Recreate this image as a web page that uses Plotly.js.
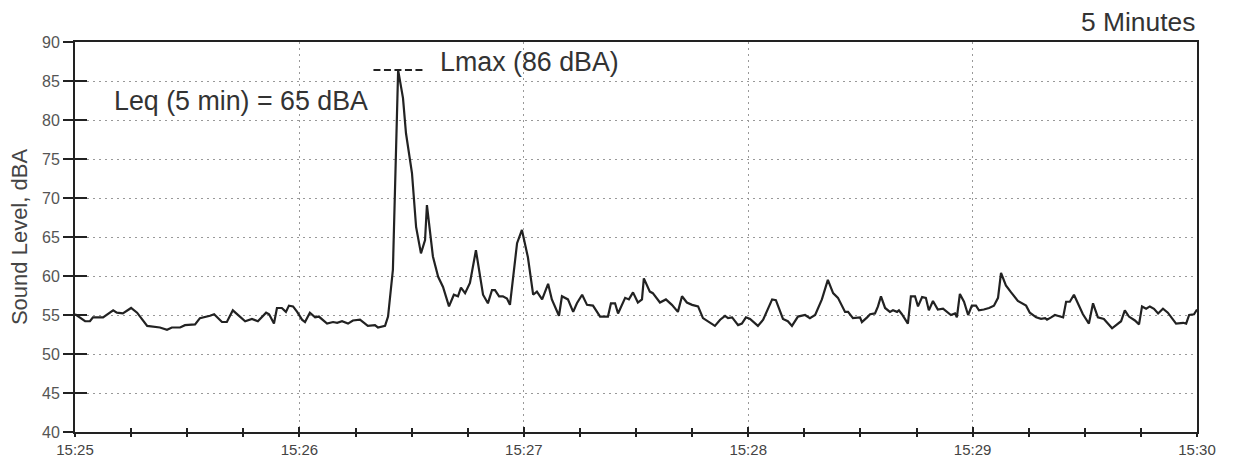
<!DOCTYPE html>
<html>
<head>
<meta charset="utf-8">
<script src="https://cdn.plot.ly/plotly-3.0.1.min.js"></script>
<style>html,body{margin:0;padding:0;background:#fff;}#chart{width:1233px;height:462px;}</style>
</head>
<body>
<div id="chart"></div>
<script>
// Seconds after 15:25:00
const seconds = [0,2.7,4.0,4.8,7.5,10.2,11.2,12.8,15.0,16.6,19.3,22.7,24.6,25.9,28.1,29.4,32.1,33.4,36.1,37.2,39.3,40.6,42.2,43.6,45.5,47.3,48.9,51.1,51.9,53.2,54.0,55.3,56.4,57.2,58.3,59.4,60.7,61.5,62.8,64.2,65.2,67.4,69.0,70.1,71.4,73.0,74.3,76.2,78.3,80.2,81.0,82.9,83.7,85.0,86.4,87.7,88.5,90.1,91.2,92.5,93.6,94.1,95.7,97.1,98.4,100.0,101.3,102.4,103.2,104.3,105.6,107.2,109.1,110.4,111.5,112.3,113.4,114.4,115.5,116.3,118.2,119.5,121.1,122.5,123.5,124.9,126.5,127.5,129.4,130.2,131.8,133.2,134.2,135.6,136.9,138.5,140.4,142.5,143.3,144.4,145.2,147.1,148.1,149.2,150.5,151.6,152.1,153.7,154.5,156.4,158.0,159.6,161.2,162.3,163.6,165.0,166.6,167.9,171.1,172.5,173.8,174.6,175.7,177.3,178.3,179.4,180.5,182.6,184.0,186.4,187.4,189.3,190.6,191.7,193.3,195.2,196.5,197.9,199.7,201.3,202.7,204.0,205.9,206.7,208.0,209.9,210.4,211.8,212.6,213.9,214.7,215.5,216.6,217.9,218.7,219.8,220.3,221.1,222.7,223.5,224.6,225.4,226.5,227.5,228.3,229.4,230.7,232.1,233.4,234.2,235.3,235.8,236.6,237.7,238.8,239.8,240.9,241.7,243.0,244.4,245.7,246.8,247.6,248.9,250.3,252.1,254.3,255.3,257.0,258.3,259.4,259.9,261.0,262.0,263.4,264.2,265.0,266.0,267.1,268.2,269.5,271.1,272.2,273.5,275.1,277.3,278.6,279.7,280.7,281.8,283.4,284.5,285.3,286.4,287.4,288.5,289.6,290.9,292.2,294.4,296.3,297.1,297.9,299.2,300];
// Sound level, dBA
const soundLevel = [55.1,54.2,54.2,54.7,54.7,55.6,55.3,55.2,55.9,55.3,53.6,53.4,53.1,53.4,53.4,53.7,53.8,54.6,54.9,55.1,54.1,54.1,55.6,55.0,54.2,54.5,54.2,55.3,55.1,53.9,55.9,55.9,55.4,56.2,56.1,55.4,54.4,54.1,55.3,54.7,54.8,53.9,54.1,54.0,54.2,53.9,54.3,54.4,53.6,53.7,53.4,53.6,54.8,60.8,86.4,82.8,78.3,73.2,66.3,62.9,64.6,69.1,62.5,59.9,58.6,56.1,57.6,57.4,58.5,57.8,59.1,63.3,57.6,56.5,58.2,58.2,57.4,57.4,57.1,56.3,64.2,65.9,62.4,57.6,58.0,57.0,59.0,57.0,54.9,57.4,57.0,55.4,56.5,57.6,56.3,56.2,54.8,54.8,56.5,56.5,55.2,57.2,57.0,57.9,56.6,57.0,59.7,58.0,57.8,56.6,57.0,56.3,55.4,57.4,56.6,56.3,56.1,54.6,53.6,54.4,54.9,54.6,54.7,53.7,53.9,54.7,54.5,53.6,54.4,57.0,56.9,54.5,54.2,53.6,54.8,55.0,54.6,55.0,57.0,59.5,57.8,57.2,55.4,55.4,54.6,54.7,54.1,54.7,55.1,55.2,56.1,57.4,55.9,55.4,55.6,55.4,55.6,55.1,53.9,57.4,57.4,56.1,57.3,57.2,55.6,56.8,55.7,55.8,55.3,55.0,55.2,54.7,57.7,56.7,55.0,56.2,56.2,55.6,55.7,55.9,56.2,57.2,60.4,58.8,57.9,56.8,56.2,55.3,54.7,54.5,54.6,54.4,54.7,55.0,54.8,54.7,56.7,56.7,57.6,56.5,55.1,53.9,56.5,54.7,54.5,53.3,53.8,54.2,55.6,54.8,54.3,53.8,56.1,55.8,56.1,55.8,55.2,55.8,55.3,53.9,54.0,53.9,55.0,55.1,55.7];
const tickSeconds = [0,60,120,180,240,300];
const tickLabels = ['15:25','15:26','15:27','15:28','15:29','15:30'];
const leqText = 'Leq (5 min) = 65 dBA';
const lmaxText = 'Lmax (86 dBA)';
const durationText = '5 Minutes';
const yTitle = 'Sound Level, dBA';

const ink = '#222';
const txt = '#333';
const font = 'Liberation Sans, Arial, sans-serif';

const lmax = Math.max(...soundLevel);
const tPeak = seconds[soundLevel.indexOf(lmax)];

const traces = [
  {x: seconds, y: soundLevel, type: 'scatter', mode: 'lines',
   line: {color: ink, width: 2.2}, hoverinfo: 'skip', showlegend: false},
  {x: seconds, y: soundLevel, xaxis: 'x2', yaxis: 'y2', type: 'scatter', mode: 'lines',
   line: {color: 'rgba(0,0,0,0)', width: 0}, hoverinfo: 'skip', showlegend: false}
];

const layout = {
  width: 1233, height: 462,
  margin: {l: 75, r: 36, t: 42, b: 30},
  paper_bgcolor: '#fff', plot_bgcolor: '#fff',
  showlegend: false,
  xaxis: {
    range: [0, 300], tickmode: 'array', tickvals: tickSeconds, ticktext: tickLabels,
    ticks: 'outside', ticklen: 3, tickwidth: 2, tickcolor: ink,
    showline: true, linecolor: ink, linewidth: 2, mirror: true,
    showgrid: true, gridcolor: '#999', gridwidth: 1, griddash: '2px,4px',
    zeroline: false,
    tickfont: {family: font, size: 15, color: '#444'},
    minor: {dtick: 15, ticks: 'outside', ticklen: 3, tickwidth: 2, tickcolor: ink, showgrid: false}
  },
  xaxis2: {
    range: [0, 300], overlaying: 'x', anchor: 'y', side: 'bottom',
    tickmode: 'array', tickvals: tickSeconds, ticks: 'inside', ticklen: 5, tickwidth: 2, tickcolor: ink,
    showticklabels: false, showgrid: false, zeroline: false, showline: false,
    minor: {dtick: 15, ticks: 'inside', ticklen: 4, tickwidth: 2, tickcolor: ink, showgrid: false}
  },
  yaxis: {
    range: [40, 90], dtick: 5, tick0: 40,
    ticks: 'outside', ticklen: 10, tickwidth: 2, tickcolor: ink,
    showline: true, linecolor: ink, linewidth: 2, mirror: true,
    showgrid: true, gridcolor: '#999', gridwidth: 1, griddash: '2px,4px',
    zeroline: false,
    tickfont: {family: font, size: 16, color: '#555'},
    title: {text: yTitle, font: {family: font, size: 22, color: '#444'}, standoff: 8}
  },
  yaxis2: {
    range: [40, 90], dtick: 5, tick0: 40, overlaying: 'y', anchor: 'x', side: 'left',
    ticks: 'inside', ticklen: 12, tickwidth: 2, tickcolor: ink,
    showticklabels: false, showgrid: false, zeroline: false, showline: false
  },
  shapes: [
    {type: 'line', xref: 'x', yref: 'y', x0: tPeak - 6.6, x1: tPeak + 7.3, y0: lmax, y1: lmax,
     line: {color: ink, width: 2, dash: '7px,3.5px'}}
  ],
  annotations: [
    {text: leqText, xref: 'x', yref: 'y', x: 9.9, y: 82.4, xanchor: 'left', yanchor: 'middle',
     showarrow: false, font: {family: font, size: 26.8, color: txt}},
    {text: lmaxText, xref: 'x', yref: 'y', x: 97, y: 87.5, xanchor: 'left', yanchor: 'middle',
     showarrow: false, font: {family: font, size: 26.8, color: txt}},
    {text: durationText, xref: 'paper', yref: 'paper', x: 1.0, y: 1.05, xanchor: 'right', yanchor: 'middle',
     showarrow: false, font: {family: font, size: 26.4, color: txt}}
  ]
};

Plotly.newPlot('chart', traces, layout, {staticPlot: true, displayModeBar: false});
</script>
</body>
</html>
